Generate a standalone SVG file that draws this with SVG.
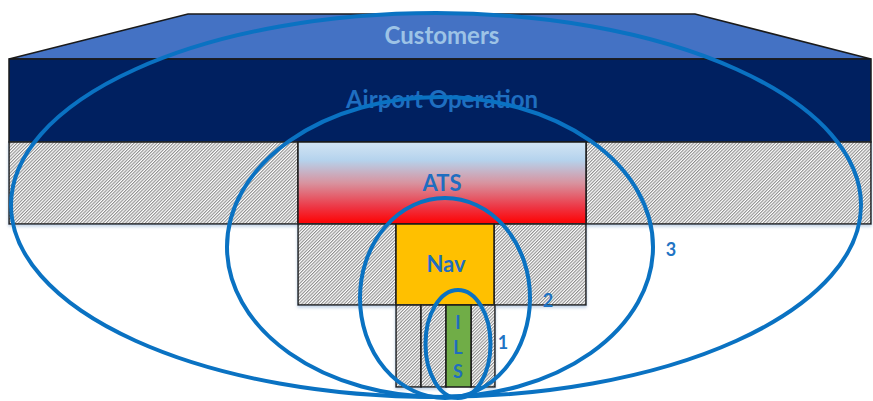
<svg xmlns="http://www.w3.org/2000/svg" width="873" height="401" viewBox="0 0 873 401">
<style>
.box{stroke:#1a1a1a;stroke-width:1.5}
.hatch{fill:url(#hatch);stroke:#1a1a1a;stroke-width:1.5}
.lbl{font-family:Lato,"Liberation Sans",sans-serif;font-weight:bold;text-anchor:middle}
.scope{fill:none;stroke:#0A72C2;stroke-width:4}
.num{font-family:Lato,"Liberation Sans",sans-serif;font-weight:bold;font-size:18px;fill:#1F74C4;text-anchor:middle}
</style>
<defs>
<pattern id="hatch" patternUnits="userSpaceOnUse" width="2.3" height="6" patternTransform="rotate(45)">
<rect width="2.3" height="6" fill="#ffffff"/>
<line x1="0.6" y1="0" x2="0.6" y2="6" stroke="#6e6e6e" stroke-width="0.85"/>
</pattern>
<linearGradient id="atsGrad" x1="0" y1="0" x2="0" y2="1">
<stop offset="0" stop-color="#d3e5f4"/>
<stop offset="0.22" stop-color="#b5d3ed"/>
<stop offset="0.5" stop-color="#d8939f"/>
<stop offset="0.8" stop-color="#ee3442"/>
<stop offset="1" stop-color="#ff0000"/>
</linearGradient>
<filter id="sh" x="-5%" y="-5%" width="110%" height="120%">
<feDropShadow dx="0" dy="2" stdDeviation="1.5" flood-color="#9db8d8" flood-opacity="0.6"/>
</filter>
</defs>

<g id="customers">
<polygon class="box" points="188,14 695,14 871,59 9,59" fill="#4472C4"/>
<text class="lbl" x="442" y="44" font-size="24" fill="#9DC3E6">Customers</text>
</g>

<g id="airport-operation">
<rect class="box" x="9" y="59" width="862" height="83" fill="#002060"/>
<text class="lbl" x="442" y="108" font-size="24" fill="#1F6EC0">Airport Operation</text>
</g>

<g id="airport-hatch" filter="url(#sh)">
<rect class="hatch" x="9" y="142" width="289" height="82"/>
<rect class="hatch" x="586" y="142" width="285" height="82"/>
</g>

<g id="ats">
<rect class="box" x="298" y="142" width="288" height="82" fill="url(#atsGrad)"/>
<text class="lbl" x="442" y="191" font-size="22" fill="#1F6EC0">ATS</text>
</g>

<g id="ats-hatch" filter="url(#sh)">
<rect class="hatch" x="298" y="224" width="98" height="81"/>
<rect class="hatch" x="494" y="224" width="92" height="81"/>
</g>

<g id="nav">
<rect class="box" x="396" y="224" width="98" height="81" fill="#FFC000"/>
<text class="lbl" x="446" y="272" font-size="22" fill="#1F6EC0">Nav</text>
</g>

<g id="nav-hatch" filter="url(#sh)">
<rect class="hatch" x="396" y="305" width="25" height="82"/>
<rect class="hatch" x="421" y="305" width="25" height="82"/>
<rect class="hatch" x="471" y="305" width="24" height="82"/>
</g>

<g id="ils">
<rect class="box" x="446" y="305" width="25" height="82" fill="#70AD47"/>
<text class="lbl" x="458" y="329" font-size="18" fill="#1F6EC0">I</text>
<text class="lbl" x="458" y="354" font-size="18" fill="#1F6EC0">L</text>
<text class="lbl" x="458" y="378" font-size="18" fill="#1F6EC0">S</text>
</g>

<g id="scopes">
<ellipse class="scope" cx="436" cy="205" rx="425" ry="192"/>
<ellipse class="scope" cx="440" cy="247" rx="213" ry="150"/>
<ellipse class="scope" cx="445" cy="298" rx="85" ry="100"/>
<ellipse class="scope" cx="458" cy="344" rx="32.5" ry="54"/>
<text class="num" x="503" y="349">1</text>
<text class="num" x="548" y="307">2</text>
<text class="num" x="671" y="256">3</text>
</g>
</svg>
